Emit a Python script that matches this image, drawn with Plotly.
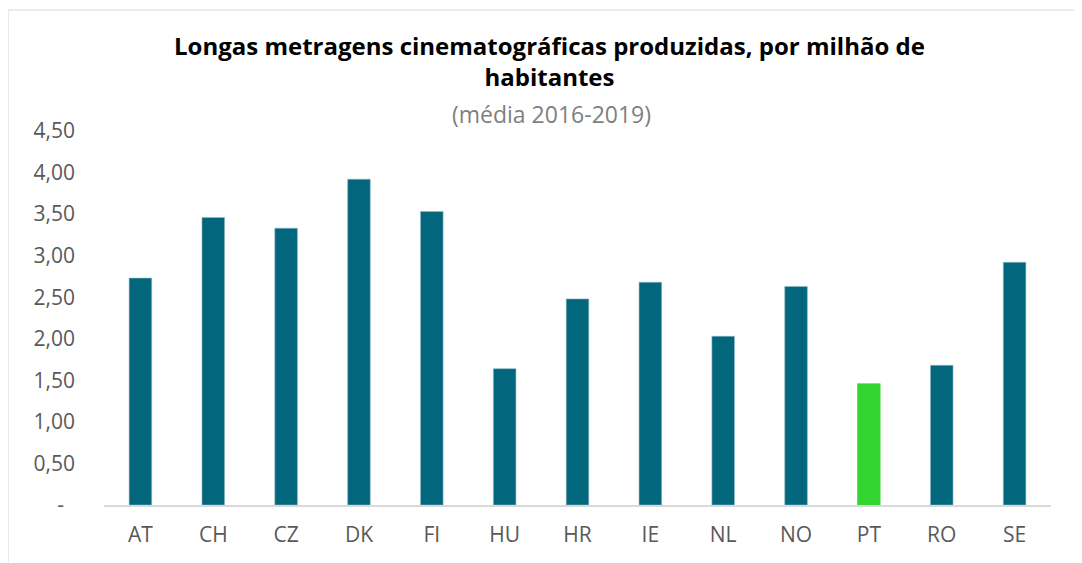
import plotly.graph_objects as go

countries = ["AT", "CH", "CZ", "DK", "FI", "HU", "HR", "IE", "NL", "NO", "PT", "RO", "SE"]
values = [2.73, 3.46, 3.33, 3.92, 3.53, 1.64, 2.48, 2.68, 2.03, 2.63, 1.46, 1.68, 2.92]
highlight = "PT"

tick_vals = [0, 0.5, 1.0, 1.5, 2.0, 2.5, 3.0, 3.5, 4.0, 4.5]
tick_text = ["-\u00a0\u00a0", "0,50", "1,00", "1,50", "2,00", "2,50", "3,00", "3,50", "4,00", "4,50"]

title_line1 = "Longas metragens cinematográficas produzidas, por milhão de"
title_line2 = "habitantes"
subtitle = "(média 2016-2019)"

TEAL = "#02667c"
GREEN = "#33d630"
colors = [GREEN if c == highlight else TEAL for c in countries]
edge = [GREEN if c == highlight else "#8fb8c4" for c in countries]

FONT = "Open Sans, Roboto, sans-serif"

fig = go.Figure(go.Bar(
    x=countries, y=values,
    marker=dict(color=colors, line=dict(color=edge, width=0.6)),
    width=0.31,
))

fig.update_layout(
    width=1082, height=563,
    paper_bgcolor="white", plot_bgcolor="white",
    margin=dict(l=96, r=39, t=123, b=66),
    showlegend=False,
    font=dict(family=FONT, color="#595959", size=21),
    xaxis=dict(
        showgrid=False, showline=True, linecolor="#d9d9d9", linewidth=1.5,
        ticks="", ticklabelstandoff=10,
        tickfont=dict(size=21, color="#595959"),
    ),
    yaxis=dict(
        range=[0, 4.5], tickvals=tick_vals, ticktext=tick_text,
        showgrid=False, zeroline=False, showline=False, ticks="",
        ticklabelstandoff=28,
        tickfont=dict(size=21, color="#595959"),
    ),
    annotations=[
        dict(text="<b>" + title_line1 + "<br>" + title_line2 + "</b>", xref="paper", yref="paper",
             x=0.4704, y=1.187, xanchor="center", yanchor="middle", showarrow=False,
             align="center",
             font=dict(family=FONT, size=24, color="black")),
        dict(text=subtitle, xref="paper", yref="paper",
             x=0.473, y=1.046, xanchor="center", yanchor="middle", showarrow=False,
             font=dict(family=FONT, size=23, color="#7f7f7f")),
    ],
    shapes=[dict(
        type="rect", xref="paper", yref="paper",
        x0=-0.1014, x1=1.0275, y0=-0.3, y1=1.3235,
        line=dict(color="#d9d9d9", width=1.2), fillcolor="rgba(0,0,0,0)",
        layer="below",
    )],
)

fig.write_html("out.html")
